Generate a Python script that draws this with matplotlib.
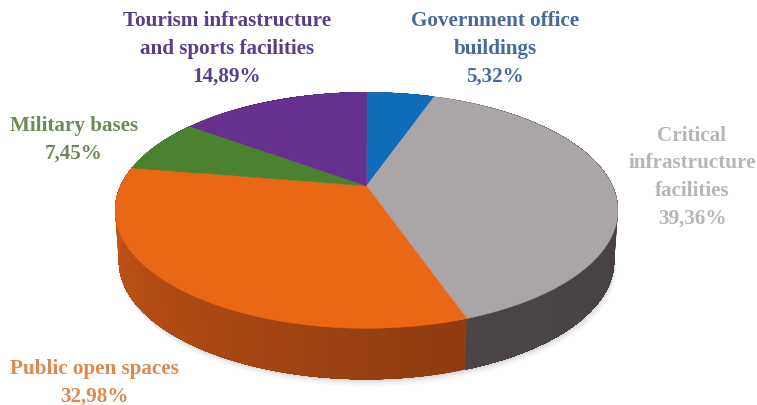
import numpy as np
import matplotlib
matplotlib.use('Agg')
import matplotlib.pyplot as plt
from matplotlib.colors import to_rgb

# clockwise from 12 o'clock
labels = ['Government office\nbuildings\n5,32%',
          'Critical\ninfrastructure\nfacilities\n39,36%',
          'Public open spaces\n32,98%',
          'Military bases\n7,45%',
          'Tourism infrastructure\nand sports facilities\n14,89%']
values = [5.32, 39.36, 32.98, 7.45, 14.89]
colors = ['#0f6cb8', '#aaa5a6', '#ea6815', '#4b8230', '#66308f']
side_from = ['#0a4f8a', '#3f3a3c', '#8f3c10', '#35601f', '#4a2368']
side_to = ['#0a4f8a', '#4b4547', '#cb5818', '#35601f', '#4a2368']
label_colors = ['#46699f', '#b9b5b5', '#dc8a52', '#6d8a5a', '#5a3f88']
label_pos = [(495, 49), (692, 177), (94, 383), (74, 140), (227, 49)]

# the pie is tilted with some perspective, so the apex sits above the ellipse centre
cx, cy = 366.5, 187
rx, ry, k = 246, 113, 0.206
depth = 51


def project(theta, r=1.0, drop=0.0, shrink=1.0):
    u = r * np.sin(theta)
    v = r * np.cos(theta)
    d = 1 + k * v
    return cx + shrink * rx * u / d, cy + ry * v * -1 / d + drop


fig = plt.figure(figsize=(7.57, 4.06), dpi=100)
ax = fig.add_axes([0, 0, 1, 1])
ax.set_xlim(0, 757)
ax.set_ylim(406, 0)
ax.axis('off')

edges = np.radians(np.concatenate([[0], np.cumsum(values)]) * 3.6)

# soft shadow under the pie
t = np.linspace(0, 2 * np.pi, 361)
for grow, alpha in [(7, 0.05), (5, 0.07), (3, 0.09), (1.5, 0.1)]:
    x, y = project(t, drop=depth + grow, shrink=0.985)
    ax.fill(x + grow * 0.3, y, color='#808080', alpha=alpha, lw=0, zorder=1)

# side wall, each strip runs on to the end of its slice so no seams show
for i in range(len(values)):
    steps = max(int(np.degrees(edges[i + 1] - edges[i])), 2)
    ts = np.linspace(edges[i], edges[i + 1], steps + 1)
    c0, c1 = np.array(to_rgb(side_from[i])), np.array(to_rgb(side_to[i]))
    for j in range(steps):
        a = np.linspace(ts[j], edges[i + 1], 2 * (steps - j) + 2)
        xt, yt = project(a)
        xb, yb = project(a, drop=depth, shrink=0.985)
        f = j / max(steps - 1, 1)
        col = c0 + (c1 - c0) * f
        ax.fill(np.r_[xt, xb[::-1]], np.r_[yt, yb[::-1]], color=col, lw=0, zorder=2)

# top face
for i in range(len(values)):
    a = np.linspace(edges[i], edges[i + 1], 200)
    x, y = project(a)
    ax.fill(np.r_[cx, x], np.r_[cy, y], color=colors[i], lw=0.3, zorder=3)

for text, pos, col in zip(labels, label_pos, label_colors):
    ax.text(pos[0], pos[1], text, color=col, ha='center', va='center', family='Liberation Serif',
            fontsize=15.2, fontweight='bold', linespacing=1.5, zorder=4)

fig.savefig('out.png', dpi=100)
